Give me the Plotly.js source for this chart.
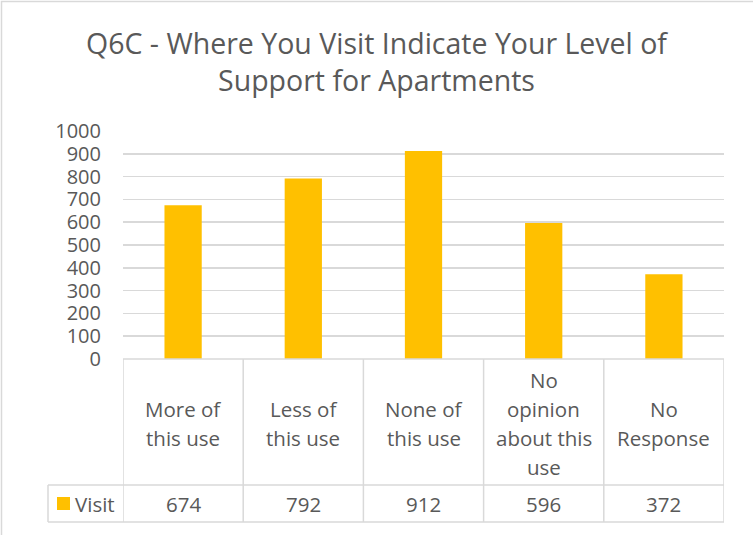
<!DOCTYPE html>
<html>
<head>
<meta charset="utf-8">
<script src="https://cdn.plot.ly/plotly-3.0.1.min.js"></script>
<style>html,body{margin:0;padding:0;background:#fff;}#chart{width:753px;height:535px;}</style>
</head>
<body>
<div id="chart"></div>
<script>
const categories = ["More of this use", "Less of this use", "None of this use", "No opinion about this use", "No Response"];
const categoryLabels = ["More of<br>this use", "Less of<br>this use", "None of<br>this use", "No<br>opinion<br>about this<br>use", "No<br>Response"];
const seriesName = "Visit";
const visitValues = [674, 792, 912, 596, 372];
const yTicks = [0, 100, 200, 300, 400, 500, 600, 700, 800, 900, 1000];

const W = 753, H = 535;
const mL = 123, mR = 29, mT = 131, mB = 176;
const plotW = W - mL - mR, plotH = H - mT - mB;
const py = p => (H - mB - p) / plotH;   // pixel y -> paper y
const px = p => (p - mL) / plotW;       // pixel x -> paper x

const FONT = "'Open Sans', sans-serif";
const TXT = "#595959";
const LINE = "#d9d9d9";
const BAR = "#ffc000";
const FS = 20.5;

const n = categories.length;
const xs = categories.map((_, i) => i);

const shapes = [];
const headerBottom = py(485), tableBottom = py(522);
shapes.push({type:'line', xref:'x', yref:'paper', x0:-0.5, x1:n-0.5, y0:0, y1:0, line:{color:LINE, width:1.5}});
shapes.push({type:'line', xref:'paper', yref:'paper', x0:px(48), x1:1, y0:headerBottom, y1:headerBottom, line:{color:LINE, width:1.5}});
shapes.push({type:'line', xref:'paper', yref:'paper', x0:px(48), x1:1, y0:tableBottom, y1:tableBottom, line:{color:LINE, width:1.5}});
for (let i = 0; i <= n; i++) {
  shapes.push({type:'line', xref:'x', yref:'paper', x0:i-0.5, x1:i-0.5, y0:0, y1:tableBottom, line:{color:LINE, width:1.5}});
}
shapes.push({type:'line', xref:'paper', yref:'paper', x0:px(48), x1:px(48), y0:headerBottom, y1:tableBottom, line:{color:LINE, width:1.5}});
shapes.push({type:'rect', xref:'paper', yref:'paper', x0:px(57), x1:px(70), y0:py(510), y1:py(497), fillcolor:BAR, line:{width:0}});
shapes.push({type:'rect', xref:'paper', yref:'paper', x0:px(1.5), x1:px(800), y0:py(600), y1:py(1.5), line:{color:LINE, width:1.5}, fillcolor:'rgba(0,0,0,0)'});

const annotations = [];
const lineGap = 29, headerMid = 423;
categories.forEach((c, i) => {
  const lines = categoryLabels[i].split('<br>');
  lines.forEach((t, k) => {
    const yPix = headerMid + (k - (lines.length - 1) / 2) * lineGap;
    annotations.push({xref:'x', yref:'paper', x:xs[i], y:py(yPix), text:t, showarrow:false,
      xanchor:'center', yanchor:'middle', align:'center', font:{family:FONT, size:FS, color:TXT}});
  });
  annotations.push({xref:'x', yref:'paper', x:xs[i], y:py(504), text:String(visitValues[i]), showarrow:false,
    xanchor:'center', yanchor:'middle', font:{family:FONT, size:FS, color:TXT}});
});
annotations.push({xref:'paper', yref:'paper', x:px(73), y:py(504), text:seriesName, showarrow:false,
  xanchor:'left', yanchor:'middle', font:{family:FONT, size:FS, color:TXT}});

const data = [{
  type:'bar', x:xs, y:visitValues, name:seriesName, marker:{color:BAR}, width:0.31, hoverinfo:'x+y'
}];

const layout = {
  width:W, height:H,
  margin:{l:mL, r:mR, t:mT, b:mB, pad:0},
  paper_bgcolor:'#fff', plot_bgcolor:'#fff',
  showlegend:false,
  title:{text:"Q6C - Where You Visit Indicate Your Level of<br>Support for Apartments", x:0.5, xanchor:'center',
    y:1 - 54/H, yanchor:'middle', font:{family:FONT, size:28.5, color:TXT}},
  xaxis:{range:[-0.5, n-0.5], showticklabels:false, showgrid:false, zeroline:false, ticks:'', fixedrange:true},
  yaxis:{range:[0, 1000], tickvals:yTicks, ticktext:yTicks.map(String), showgrid:true, gridcolor:LINE, gridwidth:1.5,
    zeroline:false, ticks:'', ticklabelstandoff:21, tickfont:{family:FONT, size:20, color:TXT}, fixedrange:true},
  shapes:shapes,
  annotations:annotations
};

Plotly.newPlot('chart', data, layout, {staticPlot:true, displayModeBar:false});
</script>
</body>
</html>
